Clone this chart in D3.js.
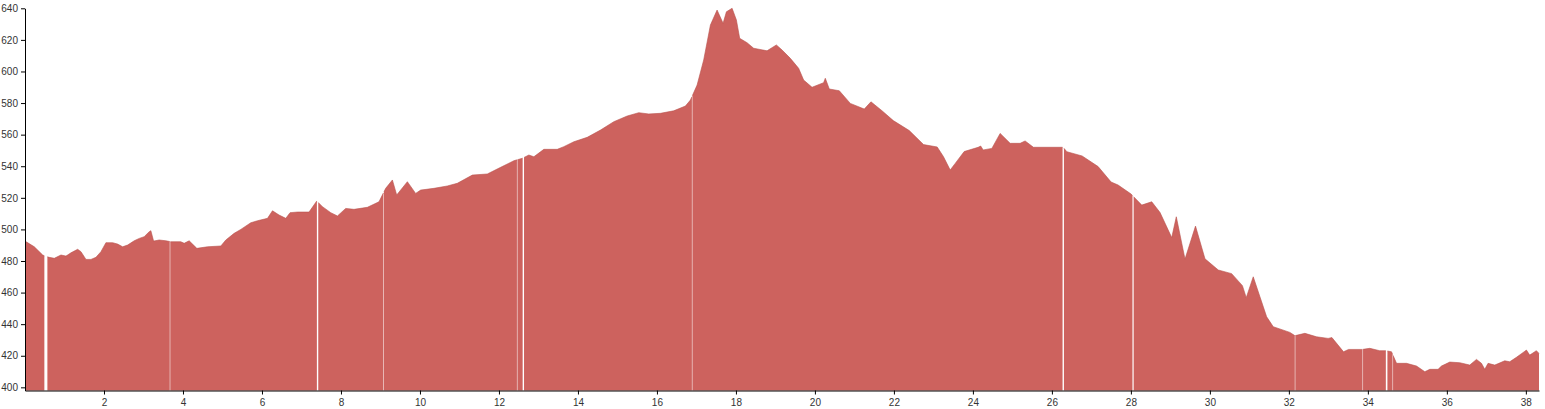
<!DOCTYPE html>
<html>
<head>
<meta charset="utf-8">
<script src="https://cdn.jsdelivr.net/npm/d3@7"></script>
<style>
  html, body { margin: 0; padding: 0; background: #fff; }
  svg { display: block; }
  .axis text { font-family: "Liberation Sans", Arial, sans-serif; font-size: 10px; fill: #333; }
  .axis path, .axis line { stroke: #000; }
</style>
</head>
<body>
<svg id="chart" width="1545" height="409"></svg>
<script>
// distance along track (km)
const distance = [0,0.235,0.448,0.506,0.615,0.741,0.911,1.037,1.164,1.333,1.417,1.543,1.670,1.796,1.923,2.049,2.219,2.345,2.472,2.598,2.765,2.892,3.018,3.144,3.187,3.256,3.397,3.567,3.687,3.946,4.030,4.156,4.351,4.622,4.958,5.085,5.295,5.464,5.717,5.887,6.140,6.266,6.433,6.603,6.711,6.899,7.192,7.387,7.531,7.741,7.911,8.120,8.330,8.669,8.963,9.132,9.302,9.411,9.681,9.891,10.018,10.354,10.693,10.946,11.326,11.705,12.042,12.378,12.590,12.757,12.884,13.137,13.476,13.643,13.896,14.235,14.571,14.908,15.247,15.540,15.793,16.089,16.425,16.721,16.848,17.017,17.184,17.354,17.523,17.675,17.759,17.903,18.012,18.095,18.282,18.449,18.788,19.024,19.168,19.378,19.588,19.714,19.927,20.220,20.263,20.364,20.617,20.896,21.250,21.419,21.705,21.984,22.388,22.750,23.096,23.256,23.425,23.552,23.779,24.134,24.197,24.260,24.480,24.690,24.943,25.196,25.322,25.533,26.284,26.378,26.765,27.170,27.499,27.676,28.005,28.275,28.528,28.738,29.034,29.150,29.370,29.636,29.876,30.212,30.551,30.824,30.921,31.098,31.267,31.437,31.604,32.026,32.153,32.406,32.702,32.995,33.090,33.384,33.510,33.857,34.050,34.300,34.456,34.599,34.726,34.979,35.232,35.442,35.568,35.778,35.864,36.074,36.327,36.580,36.750,36.876,36.960,37.043,37.213,37.466,37.592,37.762,38.015,38.098,38.267,38.333];

// elevation (m)
const elevation = [492.6,489.0,483.8,483.1,482.3,481.7,483.8,483.1,485.2,487.4,485.9,481.0,481.0,482.3,485.9,491.6,491.6,490.7,489.0,490.1,492.8,494.3,495.4,498.5,499.2,492.6,493.3,492.8,492.2,492.2,491.2,492.8,488.0,489.0,489.5,493.3,497.5,500.0,504.2,505.5,507.0,511.8,509.1,507.0,510.6,511.0,511.0,518.0,514.4,510.6,508.5,513.3,512.7,514.0,517.5,526.0,531.3,521.8,530.2,522.8,524.9,526.0,527.5,529.2,534.4,535.1,539.3,543.5,545.0,547.1,546.0,550.7,550.7,552.4,555.5,558.3,562.9,568.2,571.8,573.9,573.1,573.5,575.1,578.1,581.9,591.4,607.3,629.4,638.9,630.5,637.8,640.0,632.6,621.0,618.2,614.7,613.1,616.8,613.6,608.3,602.0,594.6,590.0,592.9,595.7,588.9,587.8,579.8,576.2,580.8,575.0,568.9,562.6,553.7,552.2,546.0,537.6,541.8,549.3,552.0,552.8,550.3,551.3,560.8,554.5,554.5,556.0,552.0,552.0,549.2,546.5,539.8,530.0,528.1,522.4,515.4,517.5,510.7,494.8,508.0,481.2,502.1,481.4,474.3,472.0,464.4,456.8,470.0,457.4,444.7,438.4,434.8,432.7,434.2,432.0,431.0,431.5,422.5,424.0,424.0,424.7,423.2,423.2,422.5,415.2,415.2,413.5,409.9,411.4,411.4,413.5,416.0,415.6,414.1,417.7,415.2,411.4,415.2,414.1,416.8,416.2,419.0,423.6,420.4,423.2,421.5];

// stretches of track with no recorded points (km from, km to)
const gapStart = [0.490, 3.665, 7.390, 9.075, 12.455, 12.600, 16.885, 26.270, 28.040, 32.150, 33.865, 34.455, 34.625];
const gapEnd   = [0.567, 3.678, 7.425, 9.088, 12.468, 12.635, 16.898, 26.305, 28.070, 32.163, 33.878, 34.495, 34.638];

const xTicks = [2,4,6,8,10,12,14,16,18,20,22,24,26,28,30,32,34,36,38];
const yTicks = [400,420,440,460,480,500,520,540,560,580,600,620,640];

const xDomain = [0, 38.333];
const yDomain = [398, 640];

const svg = d3.select("#chart");
const x = d3.scaleLinear().domain(xDomain).range([25, 1539]);
const y = d3.scaleLinear().domain(yDomain).range([390.5, 8.3]);

const pts = distance.map((d, i) => ({d, e: elevation[i]}));
const elevAt = d3.scaleLinear().domain(distance).range(elevation);

// build segments between gaps
const bounds = [xDomain[0]];
gapStart.forEach((s, i) => { bounds.push(s, gapEnd[i]); });
bounds.push(distance[distance.length - 1]);
const segments = [];
for (let i = 0; i < bounds.length; i += 2) {
  const a = bounds[i], b = bounds[i + 1];
  const seg = [{d: a, e: elevAt(a)}]
    .concat(pts.filter(p => p.d > a && p.d < b))
    .concat([{d: b, e: elevAt(b)}]);
  segments.push(seg);
}

const area = d3.area()
  .x(p => x(p.d))
  .y0(y(yDomain[0]))
  .y1(p => y(p.e));

svg.append("g")
  .selectAll("path")
  .data(segments)
  .join("path")
  .attr("d", area)
  .attr("fill", "#cd625e")
  .attr("stroke", "none");

const line = d3.line().x(p => x(p.d)).y(p => y(p.e));
svg.append("g")
  .selectAll("path")
  .data(segments)
  .join("path")
  .attr("d", line)
  .attr("fill", "none")
  .attr("stroke", "#b8524e")
  .attr("stroke-width", 0.6);

svg.append("g")
  .attr("class", "axis")
  .attr("transform", `translate(0,${y(yDomain[0])})`)
  .call(d3.axisBottom(x).tickValues(xTicks).tickSize(4).tickPadding(4).tickSizeOuter(0));

svg.append("g")
  .attr("class", "axis")
  .attr("transform", `translate(${x(xDomain[0])},0)`)
  .call(d3.axisLeft(y).tickValues(yTicks).tickSize(4).tickPadding(3).tickSizeOuter(0));
</script>
</body>
</html>
